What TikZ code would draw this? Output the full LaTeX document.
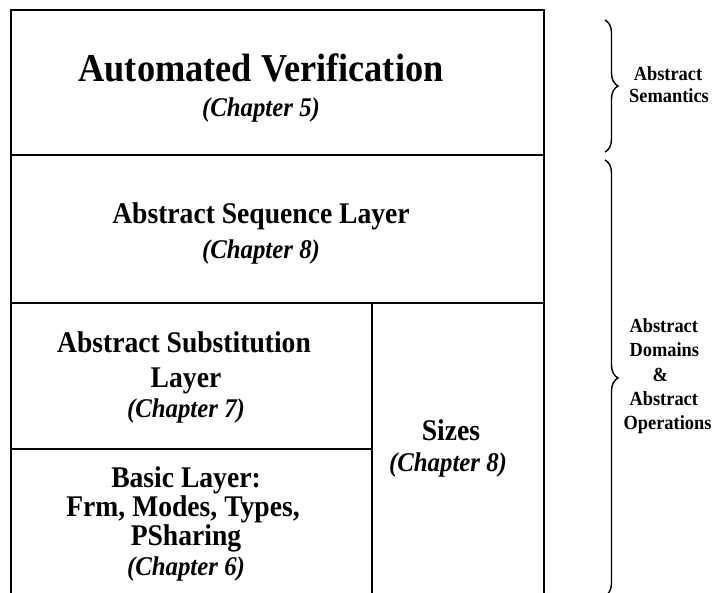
\documentclass[tikz,border=0pt]{standalone}
\usepackage{fontspec}
\setmainfont{Liberation Serif}[FakeStretch=0.92]
\usetikzlibrary{decorations.pathreplacing}
\tikzset{hd/.style={anchor=base,font=\fontsize{39.5}{44}\selectfont\bfseries},
 lay/.style={anchor=base,font=\fontsize{30}{34}\selectfont\bfseries},
 ch/.style={anchor=base,font=\fontsize{27}{30}\selectfont\bfseries\itshape},
 side/.style={anchor=base,font=\fontsize{20}{22}\selectfont\bfseries},
 frame/.style={line width=1.8pt},
 brc/.style={decorate,decoration={brace,amplitude=13pt},line width=1.4pt}}

\begin{document}
\begin{tikzpicture}[x=1pt,y=-1pt]
\useasboundingbox (0,0) rectangle (717,592);
% layer frame, open at the bottom
\coordinate (tl) at (11,10);\coordinate (tr) at (544,10);
\draw[frame] (11,600)--(tl)--(tr)--(544,600);
\draw[frame] (11,155)--(544,155);\draw[frame] (11,303)--(544,303);
\draw[frame] (372,303)--(372,600);\draw[frame] (11,449)--(372,449);
% layer texts
\node[hd] (av) at (261,81){Automated Verification};
\node[ch] (avc) at (261,116){(Chapter 5)};
\node[lay] (seq) at (261,223){Abstract Sequence Layer};
\node[ch] (seqc) at (261,258){(Chapter 8)};
\node[lay] (sub1) at (184,352){Abstract Substitution};
\node[lay] (sub2) at (186,387){Layer};
\node[ch] (subc) at (186,417){(Chapter 7)};
\node[lay] (bas1) at (186,487){Basic Layer:};
\node[lay] (bas2) at (183,516){Frm, Modes, Types,};
\node[lay] (bas3) at (186,545){PSharing};
\node[ch] (basc) at (186,575){(Chapter 6)};
\node[lay] (sz) at (451,440){Sizes};
\node[ch] (szc) at (448,471){(Chapter 8)};
% braces and their labels
\coordinate (b1t) at (605,20);\coordinate (b1b) at (605,152);
\coordinate (b2t) at (605,160);\coordinate (b2b) at (605,596);
\draw[brc] (b1t)--(b1b);\draw[brc] (b2t)--(b2b);
\node[side] (sem1) at (668,80){Abstract};
\node[side] (sem2) at (669,102){Semantics};
\node[side,anchor=base west] (dom1) at (626,332){Abstract};
\node[side,anchor=base west] (dom2) at (626,356){Domains};
\node[side,anchor=base west] (dom3) at (649,381){\&};
\node[side,anchor=base west] (dom4) at (626,405){Abstract};
\node[side,anchor=base west] (dom5) at (620,429){Operations};
\end{tikzpicture}
\end{document}
